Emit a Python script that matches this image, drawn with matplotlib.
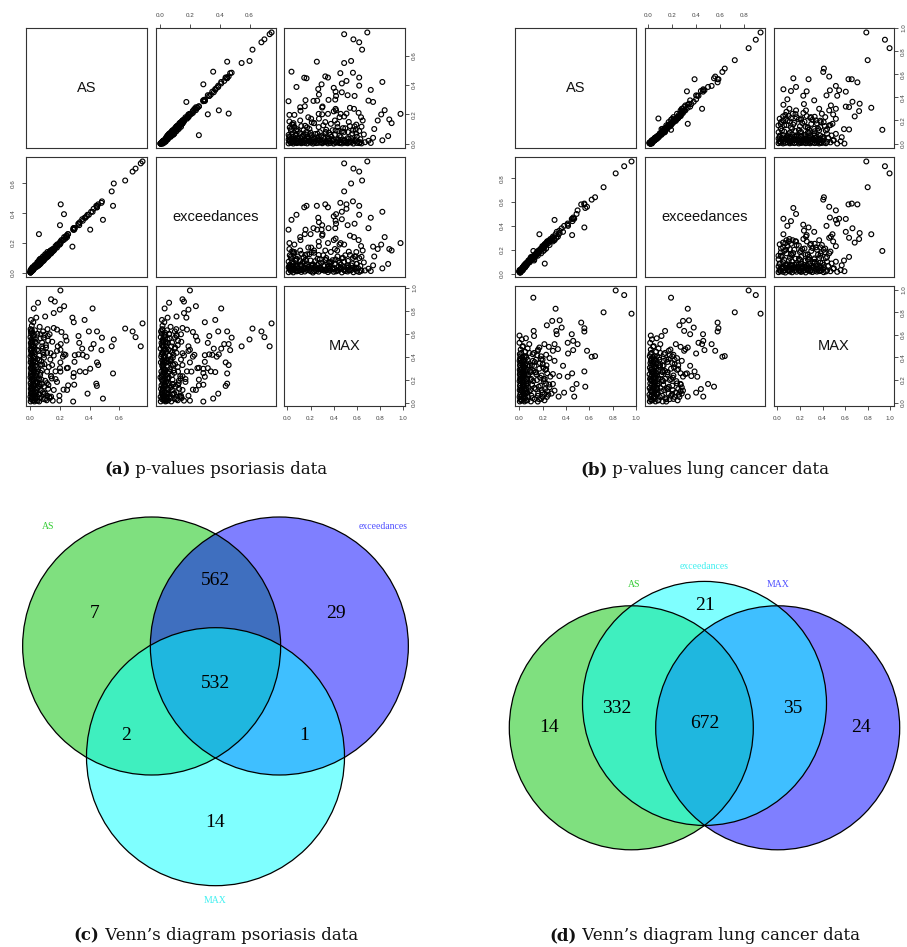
import numpy as np
import matplotlib.pyplot as plt
from matplotlib.patches import Circle
from matplotlib.ticker import MultipleLocator, FormatStrFormatter

plt.rcParams['font.family'] = 'Liberation Sans'

W, H = 907, 947
var_names = ['AS', 'exceedances', 'MAX']

# psoriasis p-values, points away from the origin
pso_as = [0.757, 0.745, 0.71, 0.69, 0.64, 0.563, 0.549, 0.558, 0.49, 0.404,
          0.284, 0.205, 0.227, 0.20, 0.058, 0.203, 0.052, 0.14, 0.165, 0.023,
          0.199, 0.228, 0.42, 0.04, 0.10, 0.158, 0.366, 0.293, 0.483, 0.395,
          0.45, 0.48, 0.427, 0.41, 0.325, 0.33, 0.237, 0.244, 0.21, 0.158,
          0.18, 0.13, 0.12, 0.185, 0.203, 0.237, 0.30, 0.325, 0.354, 0.38,
          0.35, 0.298, 0.45, 0.458, 0.372, 0.334, 0.293, 0.291, 0.246, 0.253,
          0.296, 0.255, 0.248, 0.224, 0.386, 0.445, 0.449, 0.289, 0.196, 0.196,
          0.151, 0.14, 0.10, 0.18, 0.203, 0.17, 0.14, 0.113, 0.095, 0.09,
          0.113, 0.135, 0.158, 0.18, 0.106, 0.079, 0.09, 0.063, 0.068, 0.203,
          0.22, 0.147, 0.17, 0.122, 0.158, 0.09, 0.079]
pso_exc = [0.748, 0.735, 0.70, 0.68, 0.62, 0.60, 0.547, 0.45, 0.356, 0.29,
           0.176, 0.46, 0.394, 0.32, 0.26, 0.20, 0.06, 0.15, 0.16, 0.03,
           0.19, 0.24, 0.41, 0.05, 0.11, 0.16, 0.37, 0.30, 0.48, 0.39,
           0.45, 0.47, 0.43, 0.41, 0.33, 0.32, 0.24, 0.25, 0.22, 0.15,
           0.18, 0.14, 0.12, 0.19, 0.20, 0.23, 0.30, 0.33, 0.35, 0.38,
           0.36, 0.30, 0.44, 0.46, 0.37, 0.34, 0.29, 0.30, 0.25, 0.26,
           0.29, 0.26, 0.24, 0.22, 0.39, 0.45, 0.44, 0.29, 0.20, 0.19,
           0.16, 0.13, 0.11, 0.17, 0.21, 0.17, 0.15, 0.12, 0.10, 0.09,
           0.11, 0.14, 0.16, 0.19, 0.10, 0.08, 0.10, 0.07, 0.06, 0.20,
           0.22, 0.15, 0.18, 0.12, 0.15, 0.09, 0.08]
pso_max = [0.69, 0.49, 0.57, 0.62, 0.645, 0.55, 0.49, 0.254, 0.035, 0.295,
           0.74, 0.51, 0.42, 0.30, 0.20, 0.977, 0.87, 0.90, 0.88, 0.82,
           0.81, 0.84, 0.82, 0.74, 0.75, 0.78, 0.72, 0.70, 0.566, 0.62,
           0.62, 0.457, 0.51, 0.47, 0.58, 0.52, 0.575, 0.54, 0.615, 0.65,
           0.636, 0.595, 0.54, 0.49, 0.46, 0.416, 0.413, 0.42, 0.416, 0.40,
           0.47, 0.355, 0.35, 0.327, 0.266, 0.272, 0.257, 0.225, 0.30, 0.303,
           0.156, 0.15, 0.11, 0.113, 0.078, 0.165, 0.145, 0.009, 0.017, 0.06,
           0.017, 0.052, 0.03, 0.18, 0.27, 0.205, 0.23, 0.27, 0.335, 0.416,
           0.433, 0.375, 0.41, 0.45, 0.48, 0.523, 0.566, 0.66, 0.595, 0.35,
           0.40, 0.327, 0.272, 0.153, 0.11, 0.075, 0.162]

# psoriasis p-values, dense block of small AS / exceedances values
pso_as_low = [0.002, 0.006, 0.001, 0.004, 0.008, 0.003, 0.005, 0.002, 0.007, 0.001,
              0.004, 0.006, 0.003, 0.009, 0.002, 0.005, 0.001, 0.007, 0.004, 0.002,
              0.006, 0.003, 0.008, 0.001, 0.005, 0.004, 0.002,
              0.014, 0.018, 0.012, 0.020, 0.016, 0.011, 0.019, 0.013, 0.017, 0.015,
              0.021, 0.012, 0.018, 0.014, 0.016, 0.020, 0.013, 0.017, 0.011, 0.019,
              0.015, 0.012, 0.018, 0.014,
              0.028, 0.033, 0.026, 0.035, 0.030, 0.027, 0.034, 0.029, 0.032, 0.025,
              0.031, 0.036, 0.028, 0.030, 0.026, 0.033,
              0.044, 0.048, 0.041, 0.050, 0.046, 0.043, 0.049, 0.042, 0.047, 0.045,
              0.060, 0.065, 0.058, 0.070, 0.062, 0.075, 0.068, 0.080, 0.090, 0.085,
              0.095, 0.100, 0.110, 0.115, 0.120,
              0.010, 0.020, 0.005,
              0.009, 0.022, 0.010, 0.024, 0.008, 0.023, 0.011, 0.021, 0.009, 0.025,
              0.012, 0.022, 0.010, 0.024, 0.008, 0.023, 0.011, 0.021, 0.009, 0.025,
              0.035, 0.042, 0.052, 0.061, 0.038, 0.047, 0.056, 0.066, 0.074, 0.083,
              0.031, 0.044, 0.058, 0.071, 0.088, 0.036, 0.049, 0.063, 0.078, 0.092,
              0.105, 0.118, 0.128, 0.140, 0.033, 0.054, 0.069, 0.086, 0.099, 0.112,
              0.125, 0.137, 0.148, 0.040, 0.060, 0.080, 0.097, 0.116, 0.132, 0.145]
pso_exc_low = [0.004, 0.012, 0.003, 0.010, 0.015, 0.006, 0.009, 0.018, 0.011, 0.002,
               0.013, 0.008, 0.020, 0.014, 0.005, 0.016, 0.007, 0.010, 0.022, 0.003,
               0.012, 0.009, 0.017, 0.004, 0.011, 0.006, 0.014,
               0.022, 0.025, 0.015, 0.031, 0.019, 0.024, 0.028, 0.017, 0.035, 0.020,
               0.026, 0.030, 0.021, 0.018, 0.033, 0.024, 0.027, 0.016, 0.029, 0.023,
               0.038, 0.019, 0.026, 0.032,
               0.036, 0.045, 0.030, 0.041, 0.052, 0.034, 0.039, 0.047, 0.038, 0.033,
               0.044, 0.050, 0.035, 0.042, 0.040, 0.037,
               0.055, 0.060, 0.049, 0.068, 0.052, 0.058, 0.063, 0.050, 0.071, 0.057,
               0.075, 0.072, 0.081, 0.078, 0.090, 0.083, 0.095, 0.088, 0.097, 0.110,
               0.102, 0.125, 0.118, 0.140, 0.128,
               0.016, 0.028, 0.012,
               0.015, 0.030, 0.018, 0.034, 0.012, 0.029, 0.020, 0.027, 0.016, 0.036,
               0.019, 0.031, 0.014, 0.033, 0.013, 0.028, 0.021, 0.026, 0.017, 0.035,
               0.045, 0.040, 0.066, 0.058, 0.052, 0.061, 0.050, 0.079, 0.070, 0.098,
               0.046, 0.055, 0.052, 0.085, 0.080, 0.050, 0.045, 0.076, 0.090, 0.085,
               0.118, 0.110, 0.140, 0.135, 0.041, 0.068, 0.063, 0.099, 0.095, 0.125,
               0.118, 0.150, 0.142, 0.052, 0.072, 0.075, 0.110, 0.108, 0.145, 0.138]
pso_max_low = [0.01, 0.03, 0.05, 0.08, 0.10, 0.12, 0.15, 0.17, 0.20, 0.22,
               0.25, 0.27, 0.30, 0.32, 0.35, 0.37, 0.40, 0.42, 0.45, 0.47,
               0.50, 0.52, 0.55, 0.57, 0.60, 0.62, 0.64,
               0.02, 0.04, 0.07, 0.09, 0.11, 0.14, 0.16, 0.19, 0.21, 0.24,
               0.26, 0.29, 0.31, 0.34, 0.36, 0.39, 0.41, 0.44, 0.46, 0.49,
               0.51, 0.54, 0.58, 0.61,
               0.01, 0.04, 0.06, 0.09, 0.12, 0.15, 0.18, 0.21, 0.24, 0.28,
               0.32, 0.36, 0.40, 0.44, 0.49, 0.53,
               0.02, 0.05, 0.08, 0.13, 0.17, 0.22, 0.27, 0.31, 0.38, 0.46,
               0.01, 0.04, 0.07, 0.11, 0.16, 0.20, 0.26, 0.33, 0.03, 0.09,
               0.14, 0.19, 0.02, 0.06, 0.12,
               0.67, 0.70, 0.72,
               0.04, 0.06, 0.13, 0.16, 0.23, 0.26, 0.33, 0.36, 0.43, 0.46,
               0.53, 0.56, 0.63, 0.02, 0.09, 0.19, 0.29, 0.39, 0.49, 0.59,
               0.03, 0.18, 0.29, 0.41, 0.52, 0.60, 0.07, 0.24, 0.36, 0.47,
               0.63, 0.11, 0.21, 0.33, 0.44, 0.55, 0.015, 0.14, 0.28, 0.39,
               0.50, 0.58, 0.05, 0.23, 0.35, 0.45, 0.56, 0.62, 0.08, 0.17,
               0.31, 0.43, 0.53, 0.26, 0.37, 0.49, 0.59, 0.64, 0.04, 0.21]

# lung cancer p-values, points away from the origin
lung_as = [0.962, 0.899, 0.826, 0.722, 0.649, 0.62, 0.58, 0.557, 0.557, 0.557,
           0.53, 0.499, 0.461, 0.449, 0.414, 0.417, 0.461, 0.374, 0.452, 0.414,
           0.342, 0.49, 0.565, 0.455, 0.383, 0.336, 0.47, 0.119, 0.31, 0.235,
           0.281, 0.345, 0.362, 0.316, 0.32, 0.122, 0.125, 0.0, 0.055, 0.026,
           0.084, 0.214, 0.252, 0.301, 0.33, 0.287, 0.229, 0.157, 0.171, 0.301,
           0.258, 0.20, 0.229, 0.287, 0.217, 0.287, 0.258, 0.301, 0.214, 0.186,
           0.157, 0.206, 0.142, 0.186, 0.113, 0.128]
lung_exc = [0.94, 0.90, 0.84, 0.724, 0.64, 0.62, 0.56, 0.587, 0.58, 0.387,
            0.58, 0.53, 0.46, 0.458, 0.42, 0.40, 0.47, 0.35, 0.323, 0.41,
            0.36, 0.50, 0.55, 0.44, 0.40, 0.33, 0.46, 0.19, 0.33, 0.26,
            0.29, 0.34, 0.38, 0.30, 0.35, 0.14, 0.11, 0.02, 0.07, 0.04,
            0.10, 0.23, 0.27, 0.45, 0.31, 0.30, 0.21, 0.17, 0.33, 0.28,
            0.24, 0.22, 0.25, 0.31, 0.084, 0.27, 0.28, 0.29, 0.20, 0.21,
            0.15, 0.19, 0.16, 0.17, 0.13, 0.12]
lung_max = [0.788, 0.953, 0.994, 0.80, 0.412, 0.406, 0.459, 0.659, 0.63, 0.276,
            0.709, 0.518, 0.547, 0.606, 0.53, 0.435, 0.465, 0.326, 0.259, 0.229,
            0.235, 0.165, 0.141, 0.12, 0.088, 0.053, 0.053, 0.93, 0.832, 0.685,
            0.724, 0.729, 0.665, 0.635, 0.606, 0.635, 0.59, 0.594, 0.57, 0.494,
            0.518, 0.518, 0.494, 0.518, 0.474, 0.459, 0.424, 0.459, 0.488, 0.37,
            0.394, 0.341, 0.297, 0.253, 0.209, 0.165, 0.135, 0.106, 0.076, 0.032,
            0.009, 0.209, 0.268, 0.385, 0.429, 0.326]

# lung cancer p-values, dense block near the origin
lung_as_low = [0.003, 0.008, 0.001, 0.006, 0.010, 0.002, 0.007, 0.004, 0.009, 0.001,
               0.005, 0.008, 0.003, 0.006, 0.002, 0.009, 0.004, 0.007, 0.001, 0.005,
               0.008, 0.003,
               0.022, 0.028, 0.019, 0.031, 0.025, 0.020, 0.027, 0.030, 0.023, 0.026,
               0.018, 0.029, 0.024, 0.032, 0.021, 0.027, 0.025, 0.019, 0.030, 0.023,
               0.043, 0.048, 0.040, 0.051, 0.045, 0.042, 0.049, 0.046, 0.041, 0.050,
               0.044, 0.047, 0.039, 0.052,
               0.068, 0.074, 0.065, 0.078, 0.071, 0.066, 0.076, 0.069, 0.073, 0.070,
               0.098, 0.104, 0.095, 0.108, 0.100, 0.097, 0.106,
               0.13, 0.14, 0.15, 0.16, 0.18, 0.20, 0.22, 0.12, 0.17, 0.24, 0.13, 0.19,
               0.010, 0.030, 0.000, 0.020, 0.050, 0.070,
               0.014, 0.036, 0.057, 0.016, 0.035, 0.058, 0.013, 0.037, 0.055, 0.015,
               0.034, 0.059, 0.012, 0.038, 0.056, 0.017, 0.033, 0.054, 0.015, 0.036,
               0.055, 0.062, 0.081, 0.088, 0.112, 0.118, 0.135, 0.142, 0.158, 0.165,
               0.178, 0.185, 0.196, 0.205, 0.215, 0.228, 0.238, 0.248, 0.058, 0.085,
               0.092, 0.115, 0.128, 0.145, 0.152, 0.168, 0.175, 0.192, 0.210, 0.222,
               0.235, 0.255, 0.265, 0.275, 0.060, 0.095, 0.125, 0.160, 0.198, 0.232]
lung_exc_low = [0.012, 0.020, 0.015, 0.009, 0.028, 0.018, 0.011, 0.025, 0.016, 0.030,
                0.014, 0.022, 0.010, 0.027, 0.019, 0.013, 0.024, 0.017, 0.021, 0.029,
                0.012, 0.018,
                0.035, 0.041, 0.030, 0.048, 0.026, 0.038, 0.052, 0.033, 0.045, 0.029,
                0.040, 0.055, 0.036, 0.043, 0.031, 0.050, 0.039, 0.034, 0.047, 0.042,
                0.060, 0.052, 0.071, 0.058, 0.066, 0.049, 0.075, 0.062, 0.055, 0.080,
                0.057, 0.068, 0.063, 0.072,
                0.085, 0.095, 0.078, 0.102, 0.090, 0.082, 0.110, 0.088, 0.098, 0.093,
                0.120, 0.115, 0.132, 0.125, 0.140, 0.118, 0.128,
                0.15, 0.16, 0.18, 0.17, 0.20, 0.22, 0.25, 0.14, 0.19, 0.27, 0.16, 0.21,
                0.020, 0.045, 0.015, 0.030, 0.065, 0.085,
                0.025, 0.050, 0.070, 0.030, 0.046, 0.076, 0.020, 0.055, 0.068, 0.028,
                0.048, 0.082, 0.022, 0.052, 0.073, 0.032, 0.044, 0.067, 0.026, 0.058,
                0.080, 0.071, 0.110, 0.095, 0.140, 0.125, 0.160, 0.150, 0.190, 0.172,
                0.205, 0.200, 0.230, 0.215, 0.245, 0.240, 0.270, 0.255, 0.090, 0.100,
                0.120, 0.130, 0.155, 0.160, 0.180, 0.178, 0.200, 0.205, 0.235, 0.240,
                0.260, 0.270, 0.290, 0.280, 0.075, 0.115, 0.140, 0.185, 0.220, 0.250]
lung_max_low = [0.01, 0.03, 0.05, 0.07, 0.09, 0.11, 0.13, 0.15, 0.17, 0.19,
                0.21, 0.23, 0.25, 0.27, 0.29, 0.31, 0.33, 0.35, 0.37, 0.39,
                0.41, 0.43,
                0.02, 0.04, 0.06, 0.08, 0.10, 0.12, 0.14, 0.16, 0.18, 0.20,
                0.22, 0.24, 0.26, 0.28, 0.30, 0.32, 0.34, 0.36, 0.38, 0.40,
                0.01, 0.04, 0.07, 0.10, 0.13, 0.16, 0.19, 0.22, 0.25, 0.28,
                0.31, 0.34, 0.37, 0.41,
                0.02, 0.05, 0.09, 0.13, 0.17, 0.21, 0.25, 0.29, 0.33, 0.38,
                0.01, 0.06, 0.11, 0.16, 0.21, 0.27, 0.33,
                0.03, 0.12, 0.20, 0.08, 0.15, 0.05, 0.12, 0.28, 0.30, 0.10, 0.36, 0.24,
                0.47, 0.50, 0.53, 0.56, 0.45, 0.48,
                0.02, 0.05, 0.08, 0.11, 0.14, 0.17, 0.20, 0.23, 0.26, 0.29,
                0.32, 0.35, 0.38, 0.41, 0.12, 0.24, 0.36, 0.30, 0.44, 0.18,
                0.02, 0.24, 0.10, 0.33, 0.04, 0.19, 0.27, 0.38, 0.06, 0.14,
                0.22, 0.41, 0.09, 0.31, 0.02, 0.17, 0.26, 0.07, 0.40, 0.44,
                0.28, 0.37, 0.13, 0.25, 0.42, 0.03, 0.35, 0.11, 0.19, 0.29,
                0.05, 0.16, 0.23, 0.08, 0.15, 0.20, 0.44, 0.47, 0.38, 0.33]

# Venn region counts, in the order of venn_regions
venn_regions = ['AS', 'exceedances', 'MAX', 'AS & exceedances', 'AS & MAX',
                'exceedances & MAX', 'all three']
pso_counts = [7, 29, 14, 562, 2, 1, 532]
lung_counts = [14, 21, 24, 332, 0, 35, 672]

captions = [('(a)', 'p-values psoriasis data'),
            ('(b)', 'p-values lung cancer data'),
            ('(c)', 'Venn\u2019s diagram psoriasis data'),
            ('(d)', 'Venn\u2019s diagram lung cancer data')]

fig = plt.figure(figsize=(W / 100, H / 100), dpi=100)


def px_axes(left, top, right, bottom):
    return fig.add_axes([left / W, 1 - bottom / H, (right - left) / W, (bottom - top) / H])


def r_limits(v):
    lo, hi = np.min(v), np.max(v)
    pad = 0.04 * (hi - lo)
    return lo - pad, hi + pad


rows_px = [(28, 148), (157, 277), (286, 406)]


def pairs(cols_px, values):
    lims = [r_limits(v) for v in values]
    for i in range(3):
        for j in range(3):
            ax = px_axes(cols_px[j][0], rows_px[i][0], cols_px[j][1], rows_px[i][1])
            if i == j:
                ax.text(0.5, 0.5, var_names[i], transform=ax.transAxes,
                        ha='center', va='center', fontsize=10.5, color='#111111')
            else:
                ax.scatter(values[j], values[i], s=12, facecolors='none',
                           edgecolors='black', linewidths=0.85)
            ax.set_xlim(lims[j])
            ax.set_ylim(lims[i])
            for axis in (ax.xaxis, ax.yaxis):
                axis.set_major_locator(MultipleLocator(0.2))
                axis.set_major_formatter(FormatStrFormatter('%.1f'))
            top = i == 0 and j % 2 == 1
            bottom = i == 2 and j % 2 == 0
            left = j == 0 and i % 2 == 1
            right = j == 2 and i % 2 == 0
            ax.tick_params(direction='out', length=3, width=0.6, pad=4.5,
                           labelsize=4.5, color='#333333', labelcolor='#444444',
                           top=top, labeltop=top, bottom=bottom, labelbottom=bottom,
                           left=left, labelleft=left, right=right, labelright=right)
            ax.tick_params(axis='y', labelrotation=90)
            ax.tick_params(axis='y', which='major', right=right, pad=2.2 if right else 4.5)
            for lab in ax.get_yticklabels():
                lab.set_va('center')
            for sp in ax.spines.values():
                sp.set_linewidth(0.8)
                sp.set_color('#333333')


pairs([(26, 147), (156, 276), (284, 405)],
      [np.array(pso_as + pso_as_low), np.array(pso_exc + pso_exc_low),
       np.array(pso_max + pso_max_low)])
pairs([(515, 636), (645, 765), (774, 894)],
      [np.array(lung_as + lung_as_low), np.array(lung_exc + lung_exc_low),
       np.array(lung_max + lung_max_low)])

serif = 'Liberation Serif'
GREEN, BLUE, CYAN = '#00C200', '#0000FF', '#00FFFF'


def venn(ax, centers, fills, draw_order, label_xy, label_cols, counts, count_xy):
    for k in draw_order:
        ax.add_patch(Circle(centers[k], 1, facecolor=fills[k], alpha=0.5, lw=0))
    for c in centers:
        ax.add_patch(Circle(c, 1, fill=False, edgecolor='black', lw=0.9))
    for name, xy, col in zip(var_names, label_xy, label_cols):
        ax.text(xy[0], xy[1], name, color=col, fontsize=7, family=serif,
                ha='center', va='center')
    for n, xy in zip(counts, count_xy):
        if n:
            ax.text(xy[0], xy[1], str(n), fontsize=14, family=serif,
                    ha='center', va='center')
    ax.axis('off')


# (c) psoriasis: symmetric three-set layout, radius 129 px
ax_c = px_axes(0, 480, 454, 920)
ax_c.set_xlim(-215.5 / 129, 238.5 / 129)
ax_c.set_ylim(-274 / 129, 166 / 129)
venn(ax_c,
     centers=[(-0.495, 0), (0.495, 0), (0, -0.858)],
     fills=[GREEN, BLUE, CYAN], draw_order=[0, 1, 2],
     label_xy=[(-1.30, 0.93), (1.30, 0.93), (0, -1.97)],
     label_cols=['#33CC33', '#5050FF', '#40F0F0'],
     counts=pso_counts,
     count_xy=[(-0.94, 0.25), (0.934, 0.25), (0, -1.37), (0, 0.506),
               (-0.69, -0.69), (0.686, -0.69), (0, -0.29)])

# (d) lung cancer: exceedances circle through the AS/MAX crossing point
ax_d = px_axes(454, 480, 907, 920)
ax_d.set_xlim(-250.5 / 122, 202.5 / 122)
ax_d.set_ylim(-192.2 / 122, 247.8 / 122)
venn(ax_d,
     centers=[(-0.6, 0), (0, 0.2), (0.6, 0)],
     fills=[GREEN, CYAN, BLUE], draw_order=[0, 2, 1],
     label_xy=[(-0.578, 1.173), (0, 1.326), (0.6, 1.173)],
     label_cols=['#33CC33', '#40F0F0', '#5050FF'],
     counts=lung_counts,
     count_xy=[(-1.276, 0), (0, 1.0), (1.28, 0), (-0.723, 0.16),
               None, (0.72, 0.16), (0, 0.037)])

renderer = fig.canvas.get_renderer()
cap_font = dict(family='DejaVu Serif', fontsize=12, va='baseline', color='#111111')


def caption(xc, y_base, tag, text):
    t1 = fig.text(0, 1 - y_base / H, tag, fontweight='bold', **cap_font)
    t2 = fig.text(0, 1 - y_base / H, ' ' + text, **cap_font)
    w1 = t1.get_window_extent(renderer).width
    w2 = t2.get_window_extent(renderer).width
    x0 = xc - (w1 + w2) / 2
    t1.set_x(x0 / W)
    t2.set_x((x0 + w1) / W)


for (tag, text), (xc, yb) in zip(captions, [(215.7, 474), (704.7, 474),
                                            (215.7, 940), (704.7, 940)]):
    caption(xc, yb, tag, text)

fig.savefig('out.png', dpi=100)
